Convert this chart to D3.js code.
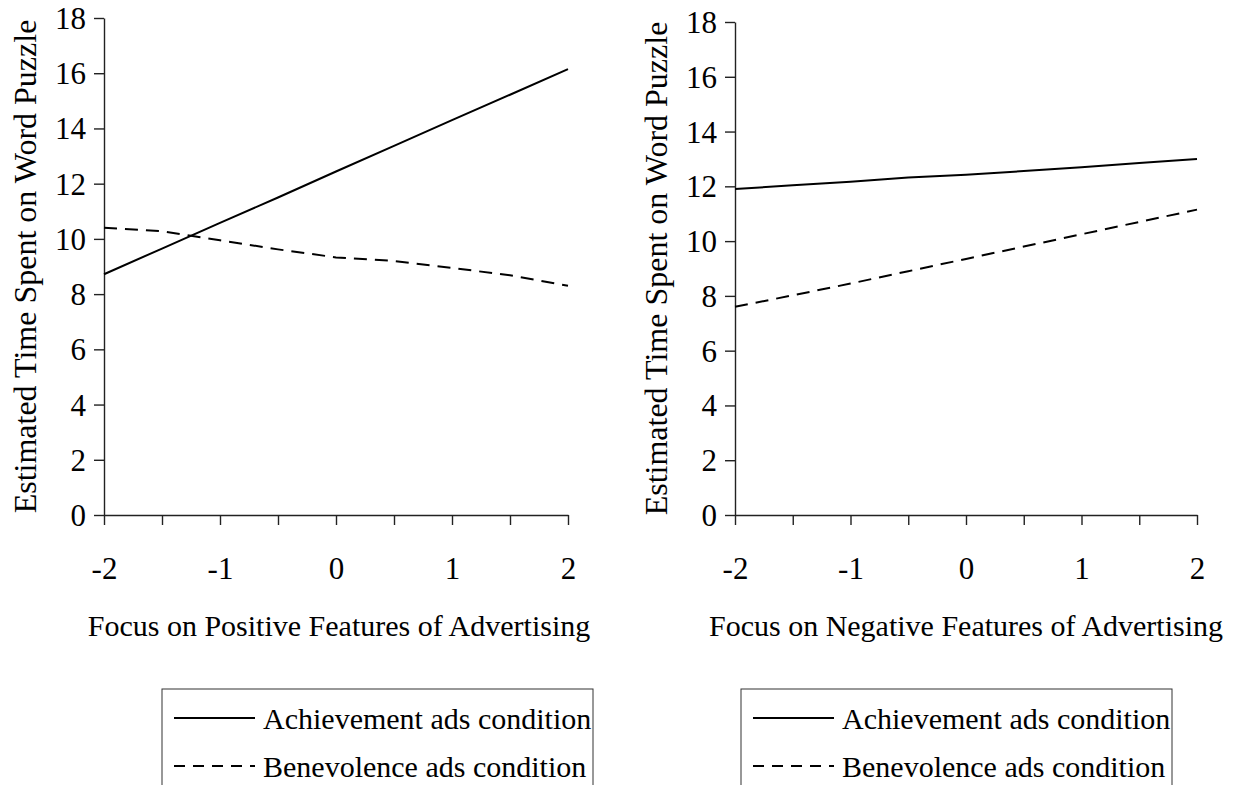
<!DOCTYPE html>
<html>
<head>
<meta charset="utf-8">
<script src="https://cdn.jsdelivr.net/npm/d3@7"></script>
<style>
body { margin: 0; background: #fff; }
text { font-family: "Liberation Serif", "Times New Roman", serif; fill: #000; }
</style>
</head>
<body>
<div id="chart"></div>
<script>
// data
var xValues = [-2, -1.5, -1, -0.5, 0, 0.5, 1, 1.5, 2];
var xTickLabels = [-2, -1, 0, 1, 2];
var yTicks = [0, 2, 4, 6, 8, 10, 12, 14, 16, 18];

var posAchievement = [8.72, 9.65, 10.58, 11.5, 12.44, 13.37, 14.3, 15.22, 16.15];
var posBenevolence = [10.4, 10.28, 9.95, 9.62, 9.33, 9.2, 8.95, 8.68, 8.3];

var negAchievement = [11.9, 12.04, 12.17, 12.32, 12.42, 12.56, 12.7, 12.85, 13.0];
var negBenevolence = [7.6, 8.02, 8.45, 8.9, 9.35, 9.8, 10.25, 10.7, 11.15];

var seriesNames = ["Achievement ads condition", "Benevolence ads condition"];
var xTitles = ["Focus on Positive Features of Advertising", "Focus on Negative Features of Advertising"];
var yTitle = "Estimated Time Spent on Word Puzzle";

var svg = d3.select("#chart").append("svg")
  .attr("width", 1242)
  .attr("height", 785);

//one panel per focus
var panels = [
  {left: 104, right: 568, top: 18, bottom: 515, series: [posAchievement, posBenevolence], title: xTitles[0], tx: 339, ylab: 25, legend: {x: 162, w: 431}},
  {left: 735, right: 1197, top: 22, bottom: 515, series: [negAchievement, negBenevolence], title: xTitles[1], tx: 966, ylab: 656, legend: {x: 741, w: 431}}
];

var dashes = [null, "13,8"];

panels.forEach(function(p) {
  var x = d3.scaleLinear().domain([-2, 2]).range([p.left, p.right]);
  var y = d3.scaleLinear().domain([0, 18]).range([p.bottom, p.top]);

  //y axis
  var gy = svg.append("g")
    .attr("transform", "translate(" + p.left + ",0)")
    .call(d3.axisLeft(y).tickValues(yTicks).tickSize(10).tickPadding(8).tickSizeOuter(0));
  gy.selectAll("text").style("font-size", "31px").attr("dy", "0.34em");

  //x axis
  var gx = svg.append("g")
    .attr("transform", "translate(0," + p.bottom + ")")
    .call(d3.axisBottom(x).tickValues(xValues).tickSize(10).tickPadding(32).tickSizeOuter(0)
      .tickFormat(function(d) { return xTickLabels.indexOf(d) >= 0 ? d : ""; }));
  gx.selectAll("text").style("font-size", "31px");

  svg.selectAll(".domain, .tick line").attr("stroke", "#222").attr("stroke-width", 1.4);

  //lines
  var line = d3.line()
    .x(function(d, i) { return x(xValues[i]); })
    .y(function(d) { return y(d); });

  p.series.forEach(function(s, i) {
    svg.append("path")
      .datum(s)
      .attr("d", line)
      .attr("fill", "none")
      .attr("stroke", "#000")
      .attr("stroke-width", 2)
      .attr("stroke-dasharray", dashes[i]);
  });

  //axis titles
  svg.append("text")
    .attr("x", p.tx)
    .attr("y", 636)
    .attr("text-anchor", "middle")
    .style("font-size", "30px")
    .text(p.title);

  svg.append("text")
    .attr("transform", "translate(" + p.ylab + "," + ((p.top + p.bottom) / 2) + ") rotate(-90)")
    .attr("text-anchor", "middle")
    .attr("dy", "0.35em")
    .style("font-size", "32px")
    .text(yTitle);

  //legend
  var lg = svg.append("g").attr("transform", "translate(" + p.legend.x + ",689)");
  lg.append("rect")
    .attr("width", p.legend.w)
    .attr("height", 120)
    .attr("fill", "none")
    .attr("stroke", "#333")
    .attr("stroke-width", 1);

  seriesNames.forEach(function(name, i) {
    var yy = 29 + i * 48;
    lg.append("line")
      .attr("x1", 12).attr("x2", 93)
      .attr("y1", yy).attr("y2", yy)
      .attr("stroke", "#000")
      .attr("stroke-width", 2)
      .attr("stroke-dasharray", i ? "11,8" : null);
    lg.append("text")
      .attr("x", 101)
      .attr("y", yy + 11)
      .style("font-size", "30px")
      .text(name);
  });
});
</script>
</body>
</html>
